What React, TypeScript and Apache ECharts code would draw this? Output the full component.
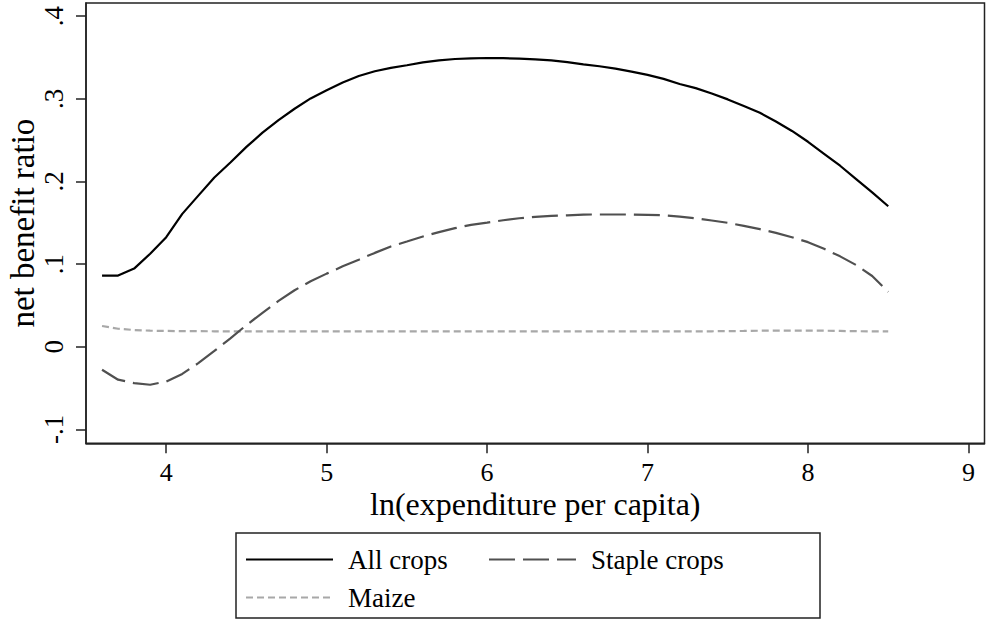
import React, { useEffect, useRef } from "react";
import * as echarts from "echarts";

const xs = [
  3.6, 3.7, 3.8, 3.9, 4.0, 4.1, 4.2, 4.3, 4.4, 4.5,
  4.6, 4.7, 4.8, 4.9, 5.0, 5.1, 5.2, 5.3, 5.4, 5.5,
  5.6, 5.7, 5.8, 5.9, 6.0, 6.1, 6.2, 6.3, 6.4, 6.5,
  6.6, 6.7, 6.8, 6.9, 7.0, 7.1, 7.2, 7.3, 7.4, 7.5,
  7.6, 7.7, 7.8, 7.9, 8.0, 8.1, 8.2, 8.3, 8.4, 8.5,
];

const allCrops = [
  0.086, 0.086, 0.0945, 0.1125, 0.1325, 0.1607, 0.1828, 0.2048, 0.2229, 0.2418,
  0.259, 0.2743, 0.288, 0.3005, 0.3105, 0.3198, 0.3277, 0.3334, 0.3375, 0.3406,
  0.3442, 0.3466, 0.3482, 0.349, 0.3494, 0.3492, 0.3487, 0.3478, 0.3465, 0.3445,
  0.3418, 0.3394, 0.3366, 0.333, 0.329, 0.3241, 0.318, 0.3129, 0.3065, 0.2993,
  0.2912, 0.2831, 0.2725, 0.2611, 0.248, 0.2335, 0.219, 0.2029, 0.1868, 0.17,
];

const stapleCrops = [
  -0.028, -0.04, -0.0441, -0.0461, -0.0422, -0.033, -0.02, -0.0052, 0.0101, 0.0261,
  0.041, 0.0554, 0.0683, 0.0792, 0.0884, 0.0972, 0.1053, 0.1135, 0.1213, 0.1273,
  0.1334, 0.1386, 0.1434, 0.1475, 0.1502, 0.153, 0.1554, 0.1571, 0.1583, 0.159,
  0.1599, 0.16, 0.16, 0.16, 0.1595, 0.159, 0.1575, 0.1554, 0.1527, 0.1499,
  0.1462, 0.1422, 0.1378, 0.1325, 0.1265, 0.1185, 0.1093, 0.0988, 0.0855, 0.0663,
];

const maize = [
  0.025, 0.0217, 0.0201, 0.0193, 0.019, 0.0188, 0.0187, 0.0186, 0.0186, 0.0186,
  0.0186, 0.0186, 0.0186, 0.0186, 0.0186, 0.0186, 0.0186, 0.0186, 0.0186, 0.0186,
  0.0186, 0.0186, 0.0186, 0.0186, 0.0186, 0.0186, 0.0186, 0.0186, 0.0186, 0.0186,
  0.0186, 0.0186, 0.0186, 0.0186, 0.0186, 0.0186, 0.0186, 0.0186, 0.0186, 0.0188,
  0.019, 0.0193, 0.0195, 0.0195, 0.0195, 0.0193, 0.019, 0.0187, 0.0185, 0.0185,
];

const seriesNames = ["All crops", "Staple crops", "Maize"];
const legendCol1 = ["All crops", "Maize"];
const legendCol2 = ["Staple crops"];
const xTicks = [4, 5, 6, 7, 8, 9];
const yTicks = [-0.1, 0, 0.1, 0.2, 0.3, 0.4];
const xTitle = "ln(expenditure per capita)";
const yTitle = "net benefit ratio";

const FONT = "'Liberation Serif', 'Times New Roman', serif";

function fmtY(v: number): string {
  const r = Math.round(v * 10) / 10;
  if (r === 0) return "0";
  return String(r).replace("0.", ".");
}

export default function App() {
  const ref = useRef<HTMLDivElement>(null);
  useEffect(() => {
    if (!ref.current) return;
    const chart = echarts.init(ref.current, null, { renderer: "svg" });
    const pairs = (ys: number[]) => xs.map((x, i) => [x, ys[i]]);
    const axisColor = "#222";
    const legendCommon = {
      orient: "vertical",
      padding: 0,
      itemWidth: 87,
      itemHeight: 27,
      itemGap: 11,
      itemStyle: { opacity: 0, borderWidth: 0 },
      textStyle: {
        fontFamily: FONT,
        fontSize: 27,
        color: "#000",
        padding: [0, 0, 0, 10],
      },
    };
    chart.setOption({
      animation: false,
      backgroundColor: "#ffffff",
      textStyle: { fontFamily: FONT },
      grid: {
        left: 86,
        top: 3,
        width: 898.5,
        height: 440.3,
        show: true,
        containLabel: false,
        outerBoundsMode: "none",
        borderColor: axisColor,
        borderWidth: 1.5,
        backgroundColor: "#ffffff",
      },
      graphic: [
        {
          type: "rect",
          z: 1,
          shape: { x: 236, y: 533, width: 584, height: 85 },
          style: { fill: "#fff", stroke: axisColor, lineWidth: 1.5 },
        },
      ],
      legend: [
        { ...legendCommon, left: 245, top: 546, data: legendCol1 },
        { ...legendCommon, left: 488, top: 546, data: legendCol2 },
      ],
      xAxis: {
        type: "value",
        min: 3.5,
        max: 9.1,
        splitLine: { show: false },
        axisLine: { show: true, onZero: false, lineStyle: { color: axisColor, width: 1.5 } },
        axisTick: {
          show: true,
          customValues: xTicks,
          length: 10,
          lineStyle: { color: axisColor, width: 1.5 },
        },
        axisLabel: {
          customValues: xTicks,
          fontFamily: FONT,
          fontSize: 26,
          lineHeight: 20,
          color: "#000",
          margin: 19,
          formatter: (v: number) => String(v),
        },
        name: xTitle,
        nameLocation: "middle",
        nameGap: 46,
        nameMoveOverlap: false,
        nameTextStyle: { fontFamily: FONT, fontSize: 32, lineHeight: 30, color: "#000" },
      },
      yAxis: {
        type: "value",
        min: -0.117,
        max: 0.416,
        splitLine: { show: false },
        axisLine: { show: true, onZero: false, lineStyle: { color: axisColor, width: 1.5 } },
        axisTick: {
          show: true,
          customValues: yTicks,
          length: 10,
          lineStyle: { color: axisColor, width: 1.5 },
        },
        axisLabel: {
          customValues: yTicks,
          rotate: 90,
          fontFamily: FONT,
          fontSize: 27,
          color: "#000",
          margin: 19,
          formatter: (v: number) => fmtY(v),
        },
        name: yTitle,
        nameLocation: "middle",
        nameGap: 48,
        nameRotate: 90,
        nameMoveOverlap: false,
        nameTextStyle: { fontFamily: FONT, fontSize: 33, lineHeight: 30, color: "#000" },
      },
      series: [
        {
          name: seriesNames[0],
          type: "line",
          data: pairs(allCrops),
          symbol: "none",
          z: 4,
          lineStyle: { color: "#000", width: 2.2 },
          itemStyle: { color: "#000" },
        },
        {
          name: seriesNames[1],
          type: "line",
          data: pairs(stapleCrops),
          symbol: "none",
          z: 3,
          lineStyle: { color: "#505050", width: 2.2, type: [26, 8] },
          itemStyle: { color: "#505050" },
        },
        {
          name: seriesNames[2],
          type: "line",
          data: pairs(maize),
          symbol: "none",
          z: 2,
          lineStyle: { color: "#a8a8a8", width: 2.2, type: [7, 4] },
          itemStyle: { color: "#a8a8a8" },
        },
      ],
    });
    return () => chart.dispose();
  }, []);
  return (
    <div
      ref={ref}
      style={{ position: "fixed", left: 0, top: 0, width: 989, height: 624, background: "#fff" }}
    />
  );
}
